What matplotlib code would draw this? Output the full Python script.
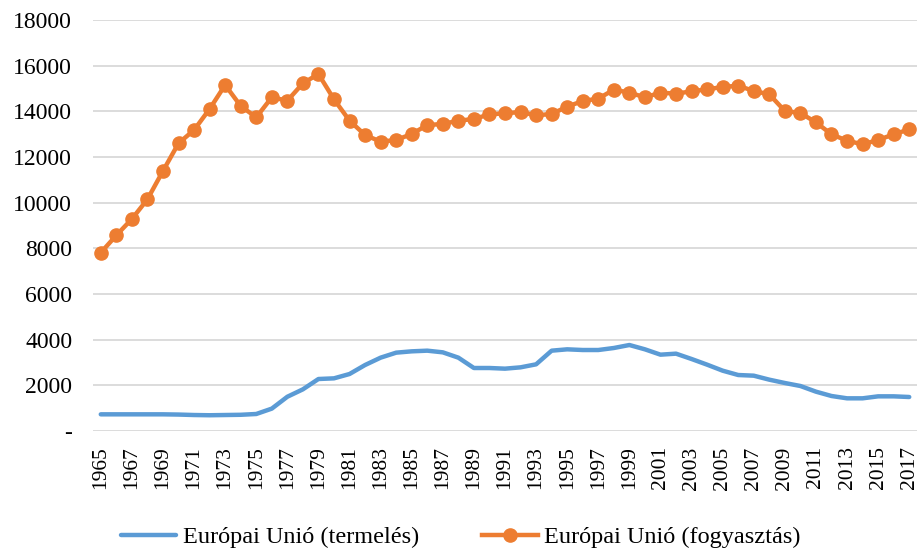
import numpy as np
from matplotlib import pyplot as plt
from matplotlib.ticker import FuncFormatter

years = list(range(1965, 2018))

termeles = [730, 730, 730, 730, 730, 720, 700, 690, 700, 710, 745,
            980, 1500, 1825, 2277, 2306, 2496, 2890, 3212, 3431, 3489,
            3518, 3445, 3212, 2759, 2759, 2730, 2788, 2920, 3518, 3577,
            3547, 3547, 3635, 3766, 3577, 3343, 3387, 3153, 2905, 2642,
            2452, 2423, 2248, 2102, 1971, 1723, 1533, 1431, 1431, 1518,
            1518, 1489]

fogyasztas = [7809, 8570, 9285, 10147, 11387, 12600, 13183, 14102, 15153, 14234, 13737,
              14613, 14467, 15226, 15635, 14526, 13591, 12963, 12672, 12745, 13007,
              13401, 13445, 13591, 13664, 13869, 13913, 13971, 13825, 13884, 14204,
              14453, 14555, 14950, 14818, 14613, 14818, 14774, 14876, 14963, 15066,
              15124, 14890, 14744, 14015, 13927, 13518, 12993, 12715, 12555, 12745,
              12993, 13211]

plt.rcParams['font.family'] = ['Liberation Serif', 'DejaVu Serif']

fig = plt.figure(figsize=(9.21, 5.5), dpi=100)
ax = fig.add_axes([93/921, 1-431/550, (917-93)/921, (431-20)/550])

ax.plot(years, termeles, color='#5B9BD5', lw=3.2, solid_capstyle='round',
        label='Európai Unió (termelés)')
ax.plot(years, fogyasztas, color='#ED7D31', lw=3.2, marker='o', ms=9.5,
        label='Európai Unió (fogyasztás)')

ax.set_xlim(1964.5, 2017.5)
ax.set_ylim(0, 18000)
ax.set_yticks(np.arange(0, 18001, 2000))
ax.yaxis.set_major_formatter(FuncFormatter(lambda v, p: '-' if v == 0 else '%d' % v))
ax.set_xticks(years[::2])
ax.tick_params(axis='x', labelrotation=90, length=0, labelsize=15.5, pad=11)
ax.tick_params(axis='y', length=0, labelsize=17, pad=15)

ax.grid(axis='y', color='#D9D9D9', lw=1.3)
ax.set_axisbelow(True)
for s in ax.spines.values():
    s.set_visible(False)

leg = fig.legend(loc='center', bbox_to_anchor=(0.5, 1-537/550), ncol=2,
                 frameon=False, fontsize=17.5, handlelength=2.3,
                 columnspacing=2.6, handletextpad=0.25)

fig.savefig('out.png', dpi=100)
